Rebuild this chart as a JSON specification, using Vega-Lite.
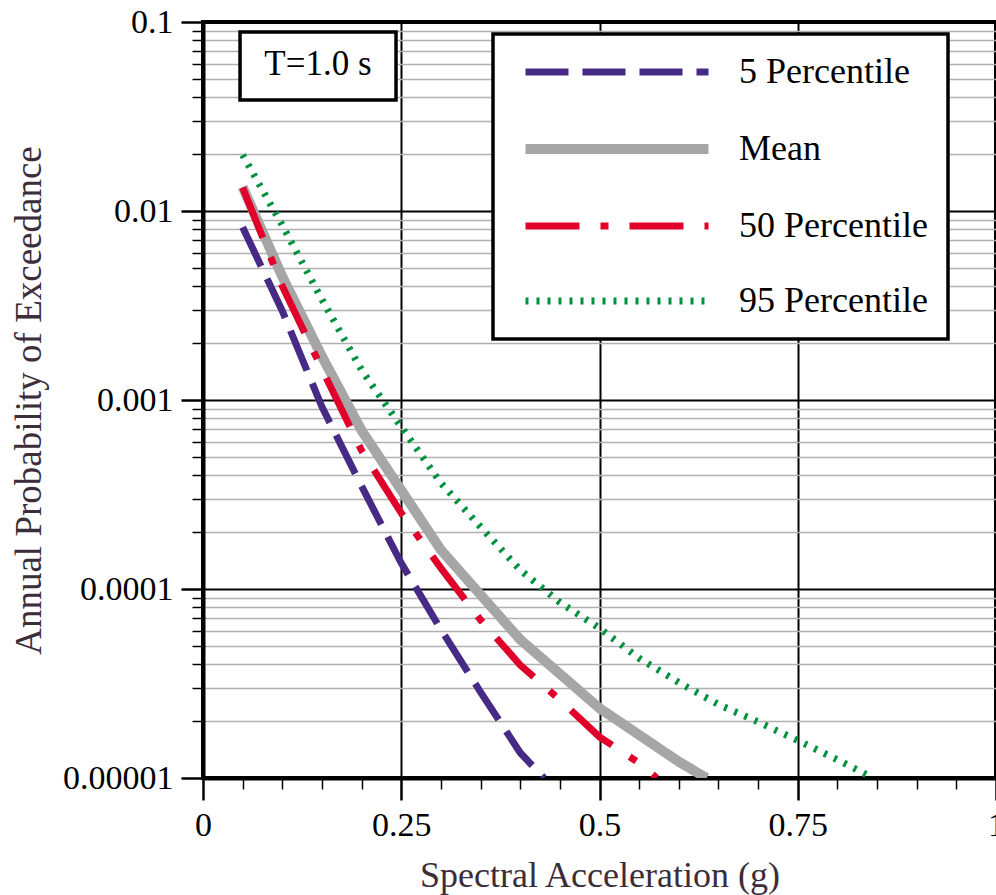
{
  "$schema": "https://vega.github.io/schema/vega-lite/v6.json",
  "width": 793,
  "height": 756,
  "autosize": {"type": "none"},
  "padding": {"left": 203, "top": 22, "right": 0, "bottom": 117},
  "background": "white",
  "config": {
    "font": "Liberation Serif",
    "view": {"stroke": "black", "strokeWidth": 4}
  },
  "data": {
    "values": [
      {"series": "Mean", "x": 0.05, "p": 0.0134},
      {"series": "Mean", "x": 0.1, "p": 0.0045},
      {"series": "Mean", "x": 0.15, "p": 0.0017},
      {"series": "Mean", "x": 0.2, "p": 0.00069},
      {"series": "Mean", "x": 0.3, "p": 0.000161},
      {"series": "Mean", "x": 0.4, "p": 0.000054},
      {"series": "Mean", "x": 0.5, "p": 0.0000234},
      {"series": "Mean", "x": 0.6, "p": 0.0000122},
      {"series": "Mean", "x": 0.635, "p": 0.00001},
      {"series": "5 Percentile", "x": 0.05, "p": 0.0082},
      {"series": "5 Percentile", "x": 0.1, "p": 0.00296},
      {"series": "5 Percentile", "x": 0.15, "p": 0.00092},
      {"series": "5 Percentile", "x": 0.2, "p": 0.00035},
      {"series": "5 Percentile", "x": 0.25, "p": 0.000137},
      {"series": "5 Percentile", "x": 0.3, "p": 0.000061},
      {"series": "5 Percentile", "x": 0.35, "p": 0.0000285},
      {"series": "5 Percentile", "x": 0.4, "p": 0.0000136},
      {"series": "5 Percentile", "x": 0.43, "p": 0.00001},
      {"series": "50 Percentile", "x": 0.05, "p": 0.0133},
      {"series": "50 Percentile", "x": 0.1, "p": 0.004},
      {"series": "50 Percentile", "x": 0.15, "p": 0.00146},
      {"series": "50 Percentile", "x": 0.2, "p": 0.00054},
      {"series": "50 Percentile", "x": 0.25, "p": 0.000252},
      {"series": "50 Percentile", "x": 0.3, "p": 0.000129},
      {"series": "50 Percentile", "x": 0.35, "p": 0.0000686},
      {"series": "50 Percentile", "x": 0.4, "p": 0.0000396},
      {"series": "50 Percentile", "x": 0.45, "p": 0.0000259},
      {"series": "50 Percentile", "x": 0.5, "p": 0.0000165},
      {"series": "50 Percentile", "x": 0.55, "p": 0.000012},
      {"series": "50 Percentile", "x": 0.572, "p": 0.00001},
      {"series": "95 Percentile", "x": 0.05, "p": 0.0198},
      {"series": "95 Percentile", "x": 0.1, "p": 0.0084},
      {"series": "95 Percentile", "x": 0.15, "p": 0.0034},
      {"series": "95 Percentile", "x": 0.2, "p": 0.00144},
      {"series": "95 Percentile", "x": 0.25, "p": 0.00072},
      {"series": "95 Percentile", "x": 0.3, "p": 0.000364},
      {"series": "95 Percentile", "x": 0.35, "p": 0.000213},
      {"series": "95 Percentile", "x": 0.4, "p": 0.000126},
      {"series": "95 Percentile", "x": 0.45, "p": 0.000085},
      {"series": "95 Percentile", "x": 0.5, "p": 0.000062},
      {"series": "95 Percentile", "x": 0.55, "p": 0.000043},
      {"series": "95 Percentile", "x": 0.6, "p": 0.000032},
      {"series": "95 Percentile", "x": 0.65, "p": 0.0000245},
      {"series": "95 Percentile", "x": 0.7, "p": 0.0000198},
      {"series": "95 Percentile", "x": 0.75, "p": 0.0000158},
      {"series": "95 Percentile", "x": 0.8, "p": 0.0000125},
      {"series": "95 Percentile", "x": 0.845, "p": 0.00001}
    ]
  },
  "layer": [
    {
      "encoding": {
        "x": {
          "field": "x",
          "type": "quantitative",
          "scale": {"domain": [0, 1], "nice": false, "zero": false},
          "axis": {
            "title": "Spectral Acceleration (g)",
            "values": [0, 0.05, 0.1, 0.15, 0.2, 0.25, 0.3, 0.35, 0.4, 0.45, 0.5, 0.55, 0.6, 0.65, 0.7, 0.75, 0.8, 0.85, 0.9, 0.95, 1],
            "tickCount": 200,
            "labelExpr": "indexof([0, 0.25, 0.5, 0.75, 1], datum.value) >= 0 ? format(datum.value, '~g') : ''",
            "labelFlush": false,
            "labelOverlap": false,
            "labelBound": false,
            "labelFont": "Liberation Serif",
            "labelFontSize": 34,
            "labelColor": "black",
            "labelPadding": 8,
            "tickColor": "black",
            "tickSize": {"condition": {"test": "indexof([0, 0.25, 0.5, 0.75, 1], datum.value) >= 0", "value": 22}, "value": 11},
            "tickWidth": {"condition": {"test": "indexof([0, 0.25, 0.5, 0.75, 1], datum.value) >= 0", "value": 2.5}, "value": 1.5},
            "grid": true,
            "gridColor": "black",
            "gridWidth": 2,
            "gridOpacity": {"condition": {"test": "indexof([0.25, 0.5, 0.75], datum.value) >= 0", "value": 1}, "value": 0},
            "domainColor": "black",
            "domainWidth": 4,
            "titleFont": "Liberation Serif",
            "titleFontSize": 36,
            "titleFontWeight": "normal",
            "titleColor": "#3b2d3a",
            "titlePadding": 16
          }
        },
        "y": {
          "field": "p",
          "type": "quantitative",
          "scale": {"type": "log", "domain": [0.00001, 0.1], "nice": false},
          "axis": {
            "title": "Annual Probability of Exceedance",
            "values": [0.00001, 0.00002, 0.00003, 0.00004, 0.00005, 0.00006, 0.00007, 0.00008, 0.00009, 0.0001, 0.0002, 0.0003, 0.0004, 0.0005, 0.0006, 0.0007, 0.0008, 0.0009, 0.001, 0.002, 0.003, 0.004, 0.005, 0.006, 0.007, 0.008, 0.009, 0.01, 0.02, 0.03, 0.04, 0.05, 0.06, 0.07, 0.08, 0.09, 0.1],
            "tickCount": 200,
            "labelExpr": "indexof([0.1, 0.01, 0.001, 0.0001, 0.00001], datum.value) >= 0 ? format(datum.value, '.5~f') : ''",
            "labelOverlap": false,
            "labelFlush": false,
            "labelBound": false,
            "labelFont": "Liberation Serif",
            "labelFontSize": 34,
            "labelColor": "black",
            "labelPadding": 8,
            "tickColor": "black",
            "tickSize": {"condition": {"test": "indexof([0.1, 0.01, 0.001, 0.0001, 0.00001], datum.value) >= 0", "value": 22}, "value": 11},
            "tickWidth": {"condition": {"test": "indexof([0.1, 0.01, 0.001, 0.0001, 0.00001], datum.value) >= 0", "value": 2.5}, "value": 1.5},
            "grid": true,
            "gridColor": {"condition": {"test": "indexof([0.1, 0.01, 0.001, 0.0001, 0.00001], datum.value) >= 0", "value": "black"}, "value": "#b0b0b0"},
            "gridWidth": {"condition": {"test": "indexof([0.1, 0.01, 0.001, 0.0001, 0.00001], datum.value) >= 0", "value": 2}, "value": 1.3},
            "domainColor": "black",
            "domainWidth": 4,
            "titleFont": "Liberation Serif",
            "titleFontSize": 37,
            "titleFontWeight": "normal",
            "titleColor": "#3b2d3a",
            "titlePadding": 14
          }
        },
        "color": {
          "field": "series",
          "type": "nominal",
          "scale": {
            "domain": ["5 Percentile", "Mean", "50 Percentile", "95 Percentile"],
            "range": ["#472a85", "#a6a6a6", "#e0002a", "#00923f"]
          },
          "legend": {
            "title": null,
            "orient": "none",
            "legendX": 290,
            "legendY": 12,
            "symbolType": "M-5,0H5",
            "symbolSize": 1340,
            "labelFont": "Liberation Serif",
            "labelFontSize": 36,
            "labelColor": "black",
            "labelOffset": 104,
            "labelLimit": 400,
            "labelExpr": "datum.label + '\u00a0\u00a0'",
            "rowPadding": 39,
            "padding": 20,
            "symbolOffset": 86,
            "strokeColor": "black",
            "fillColor": "white",
            "encode": {
              "legend": {"update": {"strokeWidth": {"value": 3.5}}},
              "symbols": {"update": {"strokeWidth": {"signal": "datum.value === 'Mean' ? 10 : 7"}}}
            }
          }
        },
        "strokeDash": {
          "field": "series",
          "type": "nominal",
          "scale": {
            "domain": ["5 Percentile", "Mean", "50 Percentile", "95 Percentile"],
            "range": [[43, 14], [1, 0], [54, 21, 8, 21], [3, 8]]
          },
          "legend": {
            "title": null,
            "orient": "none",
            "legendX": 290,
            "legendY": 12,
            "symbolType": "M-5,0H5",
            "symbolSize": 1340,
            "labelFont": "Liberation Serif",
            "labelFontSize": 36,
            "labelColor": "black",
            "labelOffset": 104,
            "labelLimit": 400,
            "labelExpr": "datum.label + '\u00a0\u00a0'",
            "rowPadding": 39,
            "padding": 20,
            "symbolOffset": 86,
            "strokeColor": "black",
            "fillColor": "white",
            "encode": {
              "legend": {"update": {"strokeWidth": {"value": 3.5}}},
              "symbols": {"update": {"strokeWidth": {"signal": "datum.value === 'Mean' ? 10 : 7"}}}
            }
          }
        }
      },
      "layer": [
        {
          "transform": [{"filter": "datum.series === 'Mean'"}],
          "mark": {"type": "line", "clip": true, "strokeCap": "butt", "strokeJoin": "miter", "strokeWidth": 10}
        },
        {
          "transform": [{"filter": "datum.series !== 'Mean'"}],
          "mark": {"type": "line", "clip": true, "strokeCap": "butt", "strokeJoin": "miter", "strokeWidth": 7}
        }
      ]
    },
    {
      "data": {"values": [{}]},
      "mark": {"type": "rect", "fill": "white", "stroke": "black", "strokeWidth": 3.5},
      "encoding": {
        "x": {"datum": 0.0467, "type": "quantitative"},
        "x2": {"datum": 0.2434},
        "y": {"datum": 0.0885, "type": "quantitative"},
        "y2": {"datum": 0.0387}
      }
    },
    {
      "data": {"values": [{}]},
      "mark": {"type": "text", "fontSize": 35, "font": "Liberation Serif", "fill": "black", "fontWeight": "normal", "align": "center", "baseline": "middle"},
      "encoding": {
        "x": {"datum": 0.145, "type": "quantitative"},
        "y": {"datum": 0.06, "type": "quantitative"},
        "text": {"value": "T=1.0 s"}
      }
    }
  ]
}
